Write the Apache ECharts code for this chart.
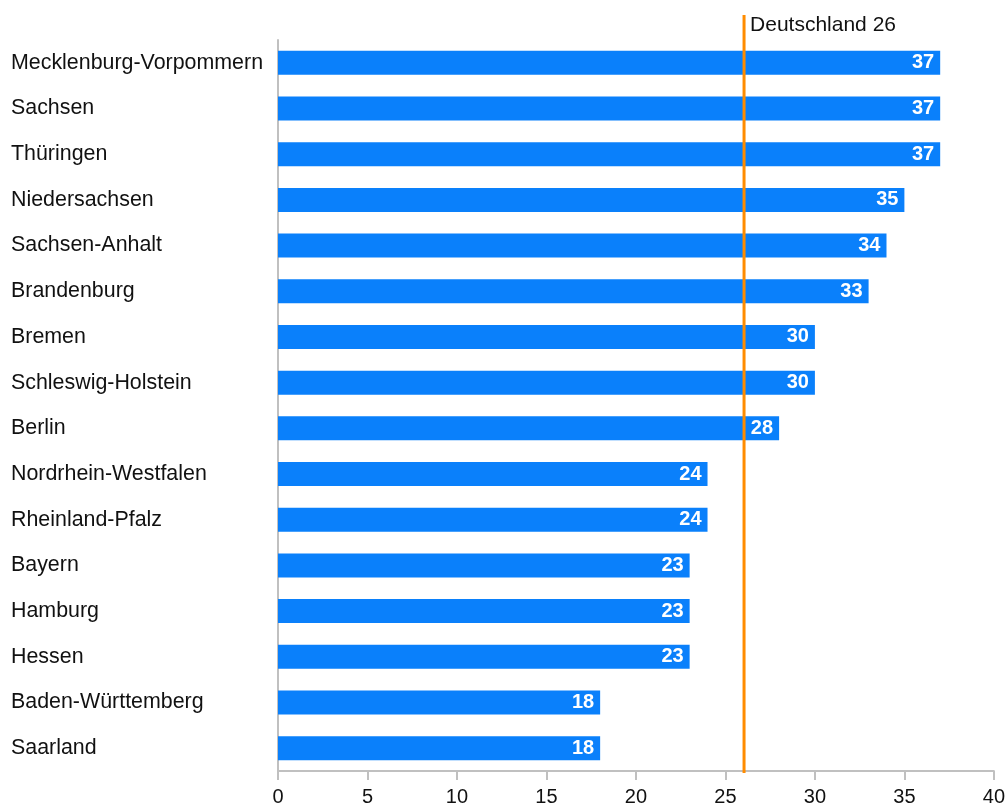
<!DOCTYPE html>
<html>
<head>
<meta charset="utf-8">
<script src="https://cdn.jsdelivr.net/npm/echarts@6/dist/echarts.min.js"></script>
<style>
html,body{margin:0;padding:0;background:#fff;}
#chart{width:1008px;height:807px;}
</style>
</head>
<body>
<div id="chart"></div>
<script>
// Bundesländer, top to bottom
const categories = [
  'Mecklenburg-Vorpommern','Sachsen','Thüringen','Niedersachsen','Sachsen-Anhalt',
  'Brandenburg','Bremen','Schleswig-Holstein','Berlin','Nordrhein-Westfalen',
  'Rheinland-Pfalz','Bayern','Hamburg','Hessen','Baden-Württemberg','Saarland'
];
const values = [37,37,37,35,34,33,30,30,28,24,24,23,23,23,18,18];
const referenceName = 'Deutschland';
const referenceValue = 26;
const xTicks = [0,5,10,15,20,25,30,35,40];

const FONT = '"Liberation Sans", Arial, sans-serif';
const chart = echarts.init(document.getElementById('chart'));

chart.setOption({
  animation: false,
  grid: [
    {left: 278, right: 13, top: 40, bottom: 34},
    {left: 278, right: 13, top: 15, bottom: 34}
  ],
  xAxis: [
    {
      gridIndex: 0, type: 'value', min: xTicks[0], max: xTicks[xTicks.length-1], interval: 5,
      axisLine: {show: true, lineStyle: {color: '#c0c0c0', width: 2}},
      axisTick: {show: true, length: 9, lineStyle: {color: '#c0c0c0', width: 2}},
      axisLabel: {color: '#111', fontSize: 20, fontFamily: FONT, margin: 16},
      splitLine: {show: false}
    },
    {
      gridIndex: 1, type: 'value', min: 0, max: 40, show: false
    }
  ],
  yAxis: [
    {
      gridIndex: 0, type: 'category', data: categories, inverse: true,
      axisLine: {show: true, lineStyle: {color: '#c0c0c0', width: 2}},
      axisTick: {show: false},
      axisLabel: {color: '#111', fontSize: 21.4, fontFamily: FONT, align: 'left', margin: 267}
    },
    {
      gridIndex: 1, type: 'value', min: 0, max: 1, show: false
    }
  ],
  series: [
    {
      type: 'bar', xAxisIndex: 0, yAxisIndex: 0,
      data: values, barWidth: 24,
      itemStyle: {color: '#0a80fb'},
      label: {
        show: true, position: 'insideRight', distance: 6,
        color: '#fff', fontWeight: 'bold', fontSize: 20, fontFamily: FONT
      }
    },
    {
      type: 'line', xAxisIndex: 1, yAxisIndex: 1,
      data: [[referenceValue, 0], [referenceValue, 1]],
      symbol: 'none',
      lineStyle: {color: '#ff8c00', width: 3},
      label: {show: false},
      endLabel: {
        show: true,
        formatter: referenceName + ' ' + referenceValue,
        color: '#111', fontSize: 21, fontFamily: FONT,
        offset: [-2, 10]
      },
      z: 5
    }
  ]
});
</script>
</body>
</html>
